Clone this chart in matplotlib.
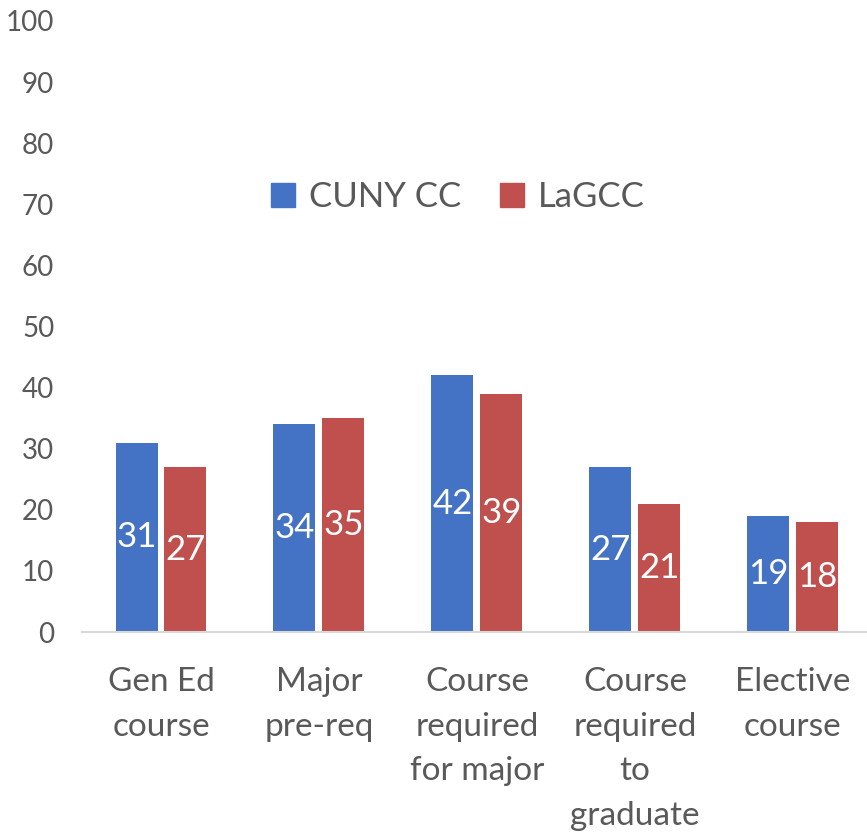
import matplotlib.pyplot as plt
from matplotlib.patches import Patch
import numpy as np

plt.rcParams['font.family'] = ['Lato', 'DejaVu Sans']

#data
categories = ['Gen Ed\ncourse', 'Major\npre-req', 'Course\nrequired\nfor major',
              'Course\nrequired\nto\ngraduate', 'Elective\ncourse']
cuny_cc = [31, 34, 42, 27, 19]
lagcc = [27, 35, 39, 21, 18]
series_names = ['CUNY CC', 'LaGCC']

blue = '#4472C4'
red = '#C0504D'
grey = '#595959'

fig = plt.figure(figsize=(8.67, 8.36), dpi=100)
ax = fig.add_axes([0.0946, 0.244, 0.911, 0.731])

x = np.arange(len(categories))
w = 0.266
b1 = ax.bar(x - 0.155, cuny_cc, w, color=blue)
b2 = ax.bar(x + 0.155, lagcc, w, color=red)

#labels in the middle of the bars
for bars in (b1, b2):
    for b in bars:
        h = b.get_height()
        ax.text(b.get_x() + b.get_width() / 2, h / 2, str(int(h)),
                ha='center', va='center', color='white', fontsize=25)

ax.set_xlim(-0.5, 4.5)
ax.set_ylim(0, 100)
ax.set_yticks(range(0, 101, 10))
ax.set_xticks(x)
ax.set_xticklabels(categories, fontsize=24, color=grey, linespacing=1.62, va='top')
ax.tick_params(axis='y', length=0, pad=20, labelsize=20, labelcolor=grey)
ax.tick_params(axis='x', length=0, pad=25)

for s in ['top', 'right', 'left']:
    ax.spines[s].set_visible(False)
ax.spines['bottom'].set_color('#D9D9D9')
ax.spines['bottom'].set_linewidth(1.5)

handles = [Patch(color=blue), Patch(color=red)]
fig.legend(handles, series_names, loc='center', bbox_to_anchor=(458 / 867, 1 - 197 / 836),
           ncol=2, frameon=False, fontsize=25, handlelength=0.7, handleheight=0.7,
           handletextpad=0.4, columnspacing=1.1, labelcolor=grey)

plt.savefig('out.png')
plt.close()
